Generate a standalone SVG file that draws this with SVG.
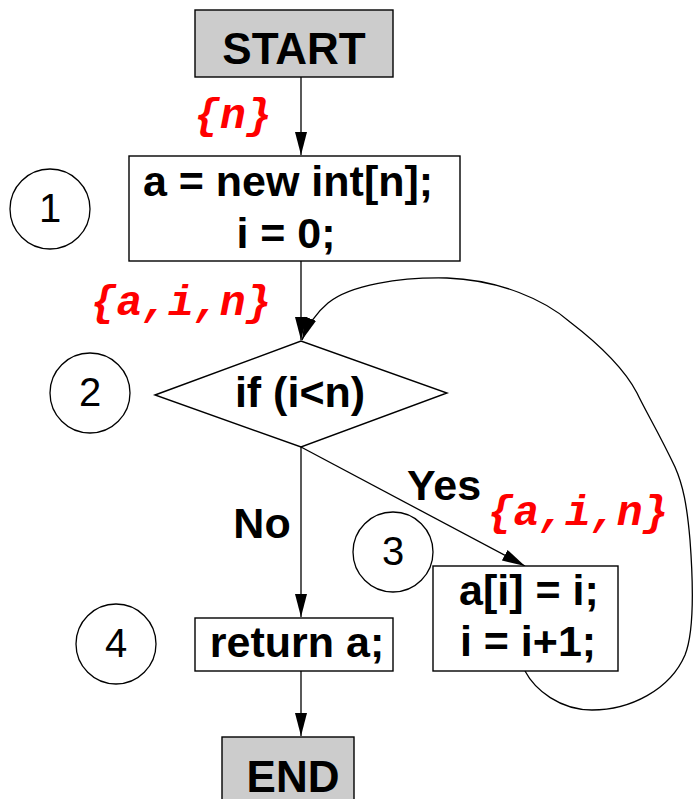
<svg xmlns="http://www.w3.org/2000/svg" width="693" height="799" viewBox="0 0 693 799">
<style>
.box{fill:#fff;stroke:#000;stroke-width:1.4}
.term{fill:#cccccc;stroke:#000;stroke-width:1.4}
.num{fill:#fff;stroke:#000;stroke-width:1.3}
.t{font-family:"Liberation Sans",Arial,sans-serif;font-weight:bold;font-size:43px;fill:#000;text-anchor:middle}
.big{font-size:44px}
.d{font-family:"Liberation Sans",Arial,sans-serif;font-size:40px;fill:#000;text-anchor:middle}
.r{font-family:"Liberation Mono","Courier New",monospace;font-weight:bold;font-style:italic;font-size:43px;fill:#ff0000;text-anchor:middle}
.c{fill:none;stroke:#000;stroke-width:1.3}
</style>
<defs>
<marker id="ah" markerUnits="userSpaceOnUse" markerWidth="25" markerHeight="14" viewBox="0 0 25 14" refX="23" refY="7" orient="auto">
<path d="M0,1 L23,7 L0,13 z" fill="#000"/>
</marker>
</defs>
<g id="connectors">
<line class="c" x1="301" y1="77" x2="301" y2="155" marker-end="url(#ah)"/>
<line class="c" x1="301" y1="261" x2="301" y2="340" marker-end="url(#ah)"/>
<line class="c" x1="301" y1="447" x2="301" y2="617" marker-end="url(#ah)"/>
<line class="c" x1="301" y1="447" x2="525" y2="566" marker-end="url(#ah)"/>
<line class="c" x1="301" y1="671" x2="301" y2="736" marker-end="url(#ah)"/>
<path class="c" d="M525,671 C535,690 560,710 592,710 C630,710 670,690 685,655 C695,630 693,580 690,540 C687,505 683,485 675,467 C660,435 645,410 637,393 C625,370 600,345 570,322 C545,300 500,280 447,278 C400,277 350,285 328,303 C316,313 308,325 302,340" marker-end="url(#ah)"/>
<text class="t" x="444" y="500">Yes</text>
<text class="t" x="262" y="538">No</text>
<text class="r" x="233" y="128">{n}</text>
<text class="r" x="181" y="315">{a,i,n}</text>
<text class="r" x="578" y="525">{a,i,n}</text>
</g>
<g id="start">
<rect class="term" x="195" y="10" width="198" height="67"/>
<text class="t big" x="294" y="64">START</text>
</g>
<g id="n1">
<rect class="box" x="129" y="156" width="331" height="105"/>
<text class="t" x="288" y="196">a = new int[n];</text>
<text class="t" x="286" y="248">i = 0;</text>
</g>
<g id="c1"><circle class="num" cx="50" cy="209" r="40"/><text class="d" x="50" y="222">1</text></g>
<g id="n2">
<polygon class="box" points="155,395 301,341 447,393 301,447"/>
<text class="t" x="300" y="407">if (i&lt;n)</text>
</g>
<g id="c2"><circle class="num" cx="90" cy="393" r="40"/><text class="d" x="90" y="406">2</text></g>
<g id="n3">
<rect class="box" x="433" y="566" width="185" height="105"/>
<text class="t" x="529" y="605">a[i] = i;</text>
<text class="t" x="528" y="656">i = i+1;</text>
</g>
<g id="c3"><circle class="num" cx="393" cy="552" r="40"/><text class="d" x="393" y="565">3</text></g>
<g id="n4">
<rect class="box" x="195" y="618" width="198" height="53"/>
<text class="t" x="297" y="657">return a;</text>
</g>
<g id="c4"><circle class="num" cx="116" cy="644" r="40"/><text class="d" x="116" y="657">4</text></g>
<g id="end">
<rect class="term" x="222" y="737" width="132" height="70"/>
<text class="t big" x="293" y="792">END</text>
</g>
</svg>
